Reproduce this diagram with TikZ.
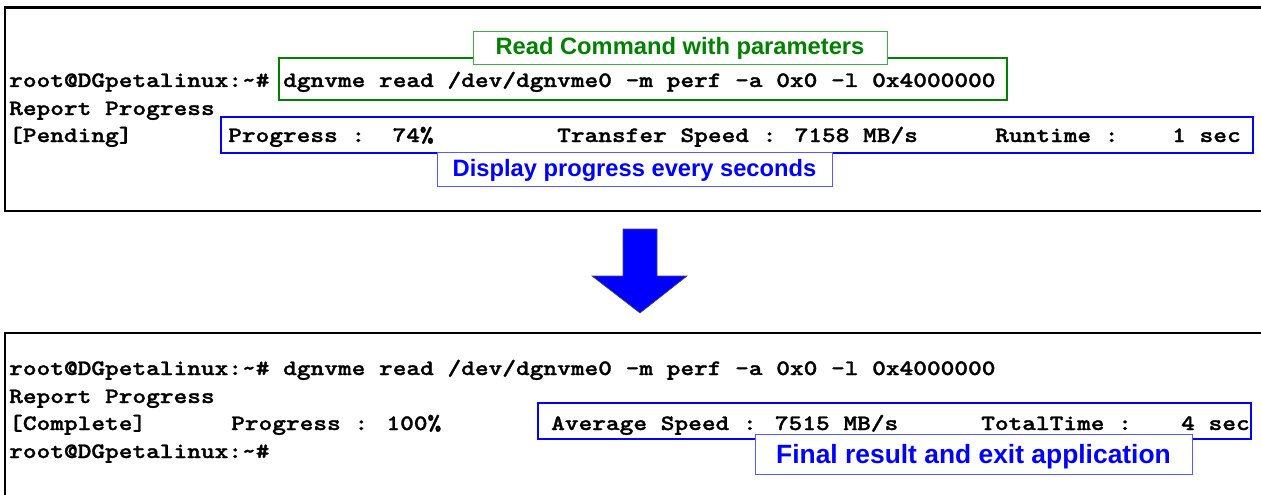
\documentclass[tikz,border=0pt]{standalone}
\usepackage{fontspec}
\usepackage{graphicx}
\newfontfamily\labelfont{Liberation Sans}
\newfontfamily\termfamily{lmmonolt10-bold.otf}[FakeBold=1.2]
\definecolor{cmdgreen}{RGB}{0,128,0}
\definecolor{lblgreen}{RGB}{70,170,70}
\definecolor{boxblue}{RGB}{0,0,255}
\definecolor{lblblue}{RGB}{90,90,255}
\newcommand\termtext[1]{\scalebox{1.186}[1]{#1}}
\tikzset{
  term/.style={anchor=base west, inner sep=0pt, font=\fontsize{22}{22}\termfamily},
  frame/.style={draw=black, line width=2.6pt},
  hlbox/.style={draw, line width=2.4pt, fill=none},
  lblbox/.style={draw, line width=1pt, fill=white, inner sep=0pt, text depth=0pt, font=\labelfont\bfseries},
}
\begin{document}
\begin{tikzpicture}[x=1pt,y=-1pt]
\useasboundingbox (0,0) rectangle (1261,495);
\clip (0,0) rectangle (1261,495);
\fill[white] (0,0) rectangle (1261,495);

% terminal frames
\draw[frame] (5,7.5) rectangle (1275,211);
\draw[frame] (5,333) rectangle (1275,520);

% top terminal text
\node[term] (t1) at (9,87) {\termtext{root@DGpetalinux:\textasciitilde\# dgnvme read /dev/dgnvme0 -m perf -a 0x0 -l 0x4000000}};
\node[term] (t2) at (9,115) {\termtext{Report Progress}};
\node[term] (t3) at (9,142) {\termtext{[Pending]}};
\node[term] (t3a) at (228,142) {\termtext{Progress~:~~74\%}};
\node[term] (t3b) at (557,142) {\termtext{Transfer Speed : 7158 MB/s}};
\node[term] (t3c) at (995,142) {\termtext{Runtime :}};
\node[term] (t3d) at (1172,142) {\termtext{1 sec}};

% highlight boxes (top)
\draw[hlbox, draw=cmdgreen] (279,58) rectangle (1007,100);
\draw[hlbox, draw=boxblue] (221,117) rectangle (1253,153);

% labels (top)
\node[lblbox, draw=lblgreen, text=cmdgreen, minimum width=414pt, minimum height=33pt,
      text height=13pt, font=\fontsize{23.7}{24}\labelfont\bfseries] (cmdlabel) at (680,48.5) {Read Command with parameters};
\node[lblbox, draw=lblblue, text=boxblue, minimum width=395pt, minimum height=34pt,
      text height=14pt, font=\fontsize{23.7}{24}\labelfont\bfseries] (proglabel) at (634.5,169) {Display progress every seconds};

% arrow
\draw[fill=boxblue, draw=black!70, line width=0.6pt]
  (623,229) -- (657,229) -- (657,276) -- (687,276) -- (640,313) -- (592,276) -- (623,276) -- cycle;

% bottom terminal text
\node[term] (b1) at (9,375) {\termtext{root@DGpetalinux:\textasciitilde\# dgnvme read /dev/dgnvme0 -m perf -a 0x0 -l 0x4000000}};
\node[term] (b2) at (9,403) {\termtext{Report Progress}};
\node[term] (b3) at (9,430) {\termtext{[Complete]}};
\node[term] (b3a) at (231,430) {\termtext{Progress : 100\%}};
\node[term] (b3b) at (551,430) {\termtext{Average Speed : 7515 MB/s}};
\node[term] (b3c) at (981,430) {\termtext{TotalTime :}};
\node[term] (b3d) at (1181,430) {\termtext{4 sec}};
\node[term] (b4) at (9,458) {\termtext{root@DGpetalinux:\textasciitilde\#}};

% highlight box (bottom)
\draw[hlbox, draw=boxblue] (538,403) rectangle (1251,439);
\node[lblbox, draw=lblblue, text=boxblue, minimum width=437pt, minimum height=40pt,
      text height=18pt, font=\fontsize{26.4}{27}\labelfont\bfseries] (finlabel) at (973.5,454) {Final result and exit application};
\end{tikzpicture}
\end{document}
